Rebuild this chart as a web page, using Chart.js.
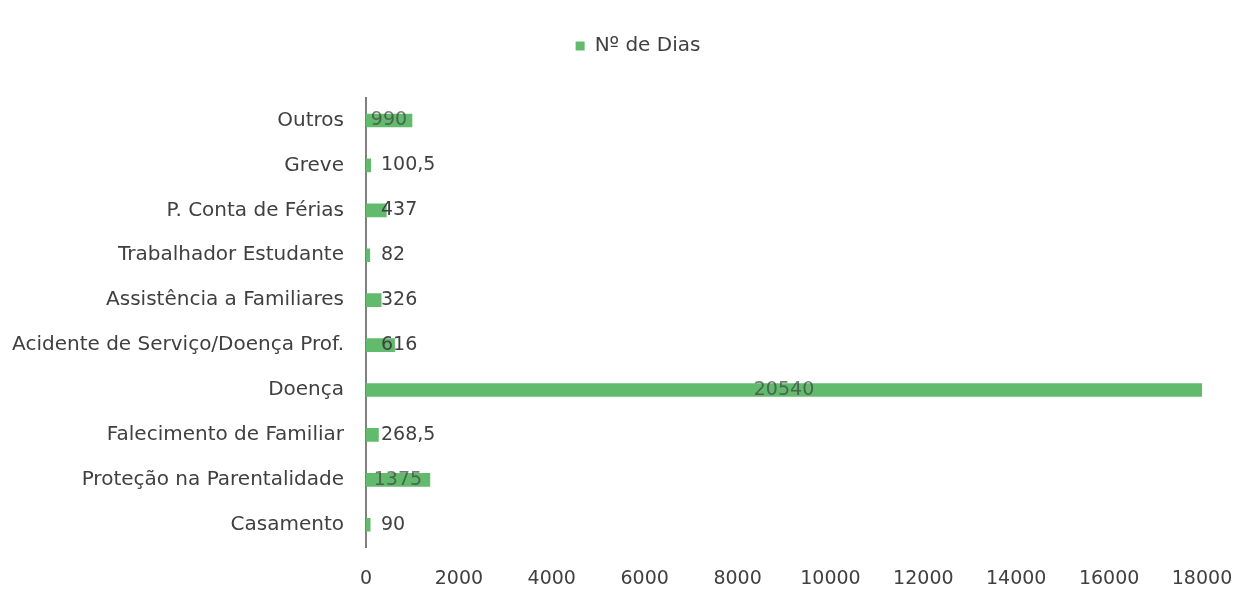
<!DOCTYPE html>
<html>
<head>
<meta charset="utf-8">
<script src="https://cdn.jsdelivr.net/npm/chart.js@4.4.1/dist/chart.umd.min.js"></script>
<style>
html, body { margin: 0; padding: 0; background: #fff; }
#wrap { width: 1244px; height: 604px; }
</style>
</head>
<body>
<div id="wrap"><canvas id="myChart"></canvas></div>
<script>
var categorias = ['Outros', 'Greve', 'P. Conta de Férias', 'Trabalhador Estudante',
    'Assistência a Familiares', 'Acidente de Serviço/Doença Prof.', 'Doença',
    'Falecimento de Familiar', 'Proteção na Parentalidade', 'Casamento'];
var dias = [990, 100.5, 437, 82, 326, 616, 20540, 268.5, 1375, 90];
var rotulos = ['990', '100,5', '437', '82', '326', '616', '20540', '268,5', '1375', '90'];
var xTicks = [0, 2000, 4000, 6000, 8000, 10000, 12000, 14000, 16000, 18000];

var fonte = "'DejaVu Sans', sans-serif";
var verde = '#62bb6c';

// rotulos dos valores, dentro da barra quando e grande, senao a seguir
var valorLabels = {
    id: 'valorLabels',
    beforeInit: function(chart) {
        var lg = chart.legend;
        var fitOriginal = lg.fit;
        lg.fit = function() {
            fitOriginal.bind(lg)();
            this.height += 32;
        };
        var drawOriginal = lg.draw;
        lg.draw = function(a) {
            chart.ctx.save();
            chart.ctx.translate(37, 0);
            drawOriginal.call(lg, a);
            chart.ctx.restore();
        };
    },
    afterDatasetsDraw: function(chart) {
        var c = chart.ctx;
        var area = chart.chartArea;
        var meta = chart.getDatasetMeta(0);
        c.save();
        c.font = '19px ' + fonte;
        c.textBaseline = 'middle';
        meta.data.forEach(function(bar, i) {
            var v = dias[i];
            if (v >= 900) {
                var fim = Math.min(bar.x, area.right);
                c.textAlign = 'center';
                c.fillStyle = 'rgba(64,64,64,0.7)';
                c.fillText(rotulos[i], (bar.base + fim) / 2, bar.y);
            } else {
                c.textAlign = 'left';
                c.fillStyle = '#404040';
                c.fillText(rotulos[i], bar.base + 15, bar.y);
            }
        });
        c.restore();
    }
};

var ctx = document.getElementById('myChart').getContext('2d');
var myChart = new Chart(ctx, {
    type: 'bar',
    data: {
        labels: categorias,
        datasets: [{
            label: 'Nº de Dias',
            data: dias,
            backgroundColor: verde,
            borderWidth: 0,
            barThickness: 13
        }]
    },
    options: {
        indexAxis: 'y',
        responsive: true,
        maintainAspectRatio: false,
        animation: false,
        layout: { padding: { top: 8, right: 42, bottom: 0, left: 0 } },
        plugins: {
            legend: {
                display: true,
                position: 'top',
                labels: {
                    boxWidth: 9,
                    boxHeight: 9,
                    padding: 28,
                    color: '#404040',
                    font: { family: fonte, size: 20 }
                }
            },
            tooltip: { enabled: false }
        },
        scales: {
            x: {
                min: 0,
                max: 18000,
                afterBuildTicks: function(axis) {
                    axis.ticks = xTicks.map(function(v) { return { value: v }; });
                },
                afterFit: function(axis) {
                    axis.height -= 6;
                    axis.paddingRight = 0;
                    axis.paddingLeft = 0;
                },
                grid: { display: false, drawTicks: false },
                border: { display: false },
                ticks: {
                    padding: 20,
                    color: '#404040',
                    font: { family: fonte, size: 19 },
                    callback: function(v) { return String(v); }
                }
            },
            y: {
                afterFit: function(axis) { axis.width = 366; },
                grid: { display: false, drawTicks: false },
                border: { display: true, color: '#808080', width: 2 },
                ticks: {
                    padding: 22,
                    color: '#404040',
                    font: { family: fonte, size: 20 }
                }
            }
        }
    },
    plugins: [valorLabels]
});
</script>
</body>
</html>
